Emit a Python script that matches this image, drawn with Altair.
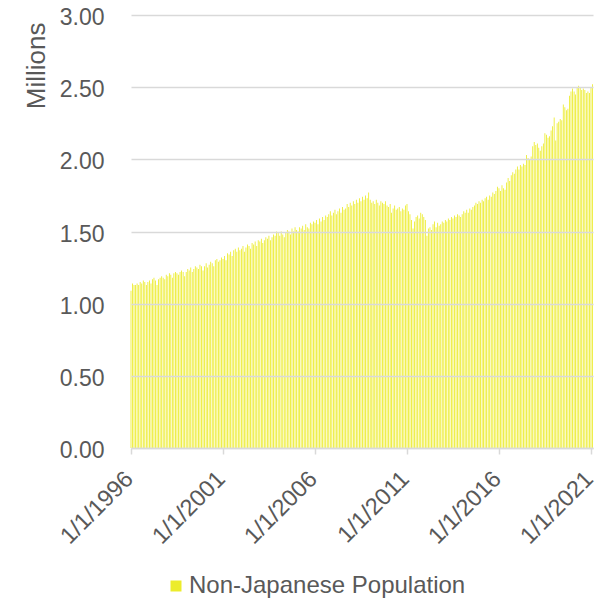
import altair as alt
import pandas as pd

# Monthly Non-Japanese population (millions), Jan 1996 .. Feb 2021
v1996 = [1.09, 1.14, 1.13, 1.13, 1.14, 1.13, 1.15, 1.14, 1.16, 1.15, 1.13, 1.15]
v1997 = [1.16, 1.14, 1.17, 1.18, 1.16, 1.13, 1.17, 1.18, 1.19, 1.18, 1.17, 1.20]
v1998 = [1.19, 1.21, 1.20, 1.18, 1.21, 1.22, 1.21, 1.20, 1.22, 1.23, 1.22, 1.19]
v1999 = [1.22, 1.24, 1.23, 1.25, 1.22, 1.24, 1.26, 1.25, 1.24, 1.27, 1.26, 1.23]
v2000 = [1.26, 1.28, 1.25, 1.27, 1.29, 1.28, 1.26, 1.30, 1.31, 1.29, 1.30, 1.32]
v2001 = [1.31, 1.33, 1.30, 1.35, 1.34, 1.36, 1.33, 1.37, 1.38, 1.36, 1.39, 1.37]
v2002 = [1.38, 1.40, 1.36, 1.39, 1.41, 1.40, 1.38, 1.42, 1.41, 1.43, 1.40, 1.44]
v2003 = [1.43, 1.45, 1.42, 1.44, 1.46, 1.45, 1.47, 1.44, 1.46, 1.48, 1.47, 1.50]
v2004 = [1.49, 1.47, 1.50, 1.48, 1.46, 1.49, 1.51, 1.50, 1.48, 1.52, 1.50, 1.53]
v2005 = [1.51, 1.50, 1.53, 1.52, 1.54, 1.51, 1.55, 1.53, 1.52, 1.56, 1.55, 1.57]
v2006 = [1.56, 1.58, 1.55, 1.59, 1.57, 1.60, 1.58, 1.61, 1.60, 1.62, 1.64, 1.61]
v2007 = [1.63, 1.65, 1.62, 1.64, 1.66, 1.63, 1.67, 1.65, 1.66, 1.69, 1.67, 1.70]
v2008 = [1.68, 1.71, 1.69, 1.72, 1.70, 1.73, 1.71, 1.74, 1.72, 1.75, 1.73, 1.77]
v2009 = [1.72, 1.70, 1.71, 1.69, 1.72, 1.70, 1.68, 1.71, 1.70, 1.69, 1.71, 1.68]
v2010 = [1.67, 1.69, 1.63, 1.66, 1.68, 1.65, 1.66, 1.67, 1.64, 1.66, 1.65, 1.68]
v2011 = [1.69, 1.64, 1.62, 1.58, 1.52, 1.57, 1.60, 1.61, 1.59, 1.63, 1.62, 1.60]
v2012 = [1.58, 1.47, 1.52, 1.53, 1.51, 1.55, 1.57, 1.53, 1.56, 1.54, 1.55, 1.57]
v2013 = [1.56, 1.58, 1.57, 1.59, 1.58, 1.60, 1.59, 1.61, 1.60, 1.62, 1.61, 1.60]
v2014 = [1.62, 1.64, 1.63, 1.65, 1.63, 1.66, 1.65, 1.67, 1.68, 1.70, 1.69, 1.71]
v2015 = [1.70, 1.72, 1.71, 1.73, 1.74, 1.72, 1.75, 1.74, 1.77, 1.76, 1.78, 1.81]
v2016 = [1.80, 1.78, 1.82, 1.80, 1.79, 1.84, 1.87, 1.85, 1.89, 1.91, 1.90, 1.93]
v2017 = [1.95, 1.93, 1.96, 1.95, 1.97, 1.96, 2.03, 2.01, 2.00, 2.02, 2.09, 2.12]
v2018 = [2.10, 2.11, 2.08, 2.06, 2.09, 2.11, 2.18, 2.17, 2.15, 2.16, 2.20, 2.23]
v2019 = [2.29, 2.13, 2.25, 2.26, 2.28, 2.27, 2.38, 2.36, 2.34, 2.35, 2.44, 2.47]
v2020 = [2.49, 2.47, 2.45, 2.50, 2.51, 2.50, 2.48, 2.49, 2.48, 2.46, 2.47, 2.46]
v2021 = [2.50, 2.52]

values = (v1996 + v1997 + v1998 + v1999 + v2000 + v2001 + v2002 + v2003 + v2004
          + v2005 + v2006 + v2007 + v2008 + v2009 + v2010 + v2011 + v2012 + v2013
          + v2014 + v2015 + v2016 + v2017 + v2018 + v2019 + v2020 + v2021)

dates = pd.date_range("1996-01-01", periods=len(values), freq="MS").strftime("%Y-%m-%d").tolist()
series_name = "Non-Japanese Population"
tick_years = [1996, 2001, 2006, 2011, 2016, 2021]
y_ticks = [0, 0.5, 1.0, 1.5, 2.0, 2.5, 3.0]

df = pd.DataFrame({"date": dates, "value": values, "series": series_name})

FONT = "Liberation Sans"
TXT = "#595959"
GRID = "#d9d9d9"
BAR = "#ECEC2C"

chart = alt.Chart(df).mark_bar(size=0.85).encode(
    x=alt.X(
        "date:T",
        scale=alt.Scale(type="utc", padding=0,
                        domain=[alt.DateTime(year=1996, month=1, date=1, utc=True),
                                alt.DateTime(year=2021, month=2, date=10, utc=True)]),
        axis=alt.Axis(
            values=[alt.DateTime(year=y, month=1, date=1, utc=True) for y in tick_years],
            labelExpr="'1/1/' + utcyear(datum.value)",
            labelAngle=-45,
            labelAlign="right",
            labelBaseline="middle",
            labelFontSize=23.5,
            labelFont=FONT,
            labelColor=TXT,
            labelPadding=21,
            labelOffset=-2,
            labelOverlap=False,
            labelFlush=False,
            grid=False,
            domainColor=GRID,
            domainWidth=1.5,
            tickColor=GRID,
            tickWidth=1.5,
            tickSize=6,
            title=None,
            zindex=1,
        ),
    ),
    y=alt.Y(
        "value:Q",
        scale=alt.Scale(domain=[0, 3], nice=False),
        axis=alt.Axis(
            values=y_ticks,
            format=".2f",
            labelFontSize=23,
            labelFont=FONT,
            labelColor=TXT,
            labelPadding=27,
            labelOffset=2.5,
            domain=False,
            ticks=False,
            gridColor=GRID,
            gridWidth=1.5,
            title="Millions",
            titleFont=FONT,
            titleFontSize=26,
            titleFontWeight="normal",
            titleColor=TXT,
            titleAngle=-90,
            titleAlign="right",
            titleBaseline="middle",
            titleX=-95,
            titleY=7,
            zindex=1,
        ),
    ),
    color=alt.Color(
        "series:N",
        scale=alt.Scale(range=[BAR]),
        legend=alt.Legend(
            orient="none",
            legendX=33,
            legendY=559,
            title=None,
            symbolType="square",
            symbolSize=121,
            symbolStrokeWidth=0,
            symbolOpacity=1,
            labelFontSize=24,
            labelFont=FONT,
            labelColor=TXT,
            labelOffset=1,
            labelLimit=0,
        ),
    ),
).properties(
    width=462,
    height=433,
    autosize=alt.AutoSizeParams(type="none"),
    padding={"left": 123, "top": 7, "right": 5, "bottom": 150},
).configure_view(stroke=None)

chart.save("out.html", embed_options={"renderer": "svg", "actions": False})
